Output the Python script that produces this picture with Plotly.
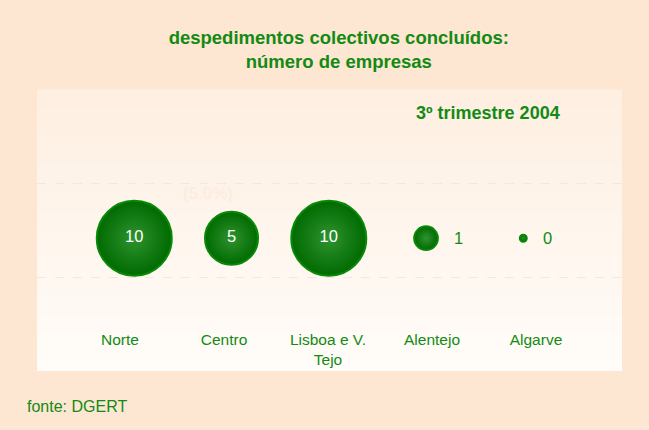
import math
import plotly.graph_objects as go

regions = ["Norte", "Centro", "Lisboa e V.<br>Tejo", "Alentejo", "Algarve"]
empresas = [10, 5, 10, 1, 0]
title_lines = ["despedimentos colectivos concluídos:", "número de empresas"]
period = "3º trimestre 2004"
share_note = "(5,0%)"
source = "fonte: DGERT"

GREEN = "#138a13"
PAPER = "#fde6d2"

fig = go.Figure()

# vertical gradient background of plot area
top = (254, 239, 225)
bot = (255, 252, 249)
n = 30
for i in range(n):
    t = i / (n - 1)
    c = tuple(round(top[k] + (bot[k] - top[k]) * t) for k in range(3))
    fig.add_shape(type="rect", xref="paper", yref="paper",
                  x0=0, x1=1, y0=1 - (i + 1) / n, y1=1 - i / n + 0.002,
                  fillcolor="rgb(%d,%d,%d)" % c, line_width=0, layer="below")

# bubble diameter proportional to sqrt(value) (area scaling), min dot for zero
max_d = 75.0
sizes = [max(7.0, max_d * math.sqrt(v / max(empresas))) for v in empresas]

inside = [v >= 5 for v in empresas]
fig.add_trace(go.Scatter(
    x=regions, y=[0] * len(regions), mode="markers+text",
    text=[str(v) if f else "" for v, f in zip(empresas, inside)],
    textposition="middle center",
    textfont=dict(family="Liberation Sans, Arial", size=16.5, color="white"),
    marker=dict(size=sizes, sizemode="diameter",
                color="#006a00",
                gradient=dict(type="radial", color="#2f932f"),
                line=dict(color="#078a07", width=2), opacity=1),
    hovertext=[str(v) for v in empresas], hoverinfo="x+text",
    showlegend=False, cliponaxis=False,
))

# invisible trace to carry the category labels axis
fig.add_trace(go.Scatter(x=regions, y=[0] * len(regions), xaxis="x2",
                         mode="markers", marker=dict(opacity=0), showlegend=False,
                         hoverinfo="skip"))

annotations = [
    dict(text="<b>" + period + "</b>", xref="paper", yref="paper",
         x=0.771, y=0.918, xanchor="center", yanchor="middle", showarrow=False,
         font=dict(size=18, color=GREEN)),
    dict(text="<b>" + share_note + "</b>", xref="paper", yref="paper",
         x=0.292, y=0.632, xanchor="center", yanchor="middle", showarrow=False,
         font=dict(size=17, color="#fdede0")),
    dict(text=source, xref="paper", yref="paper",
         x=-0.0205, y=-0.1246, xanchor="left", yanchor="middle", showarrow=False,
         font=dict(size=16, color=GREEN)),
]
# small values labelled outside, to the right of their bubble
for r, v, s, f in zip(regions, empresas, sizes, inside):
    if not f:
        annotations.append(dict(text=str(v), xref="x", yref="y", x=r, y=0,
                                xanchor="left", yanchor="middle", showarrow=False,
                                xshift=s / 2 + 14,
                                font=dict(size=16.5, color=GREEN)))

fig.update_layout(
    width=649, height=430,
    margin=dict(l=37, r=27, t=90, b=59),
    paper_bgcolor=PAPER, plot_bgcolor="rgba(0,0,0,0)",
    font=dict(family="Liberation Sans, Arial", color=GREEN),
    title=dict(text="<b>" + "<br>".join(title_lines) + "</b>",
               x=0.522, xanchor="center", y=0.898, yanchor="middle",
               font=dict(size=18.5, color=GREEN)),
    xaxis=dict(type="category", range=[-1.0, 5.015], showgrid=False,
               zeroline=False, showticklabels=False, showline=False),
    xaxis2=dict(type="category", range=[-0.798, 4.827], overlaying="x",
                anchor="free", position=0.152, side="bottom",
                showgrid=False, zeroline=False, showline=False, ticks="",
                tickfont=dict(size=15.5, color=GREEN)),
    yaxis=dict(range=[-1.41, 1.574], tick0=0.585, dtick=1,
               showgrid=True, gridcolor="#f7e7da", griddash="dash", gridwidth=1,
               zeroline=False, showticklabels=False, showline=False),
    annotations=annotations,
)

fig.write_html("out.html", config={"displayModeBar": False},
               post_script="document.body.style.margin='0';document.body.style.padding='0';")
